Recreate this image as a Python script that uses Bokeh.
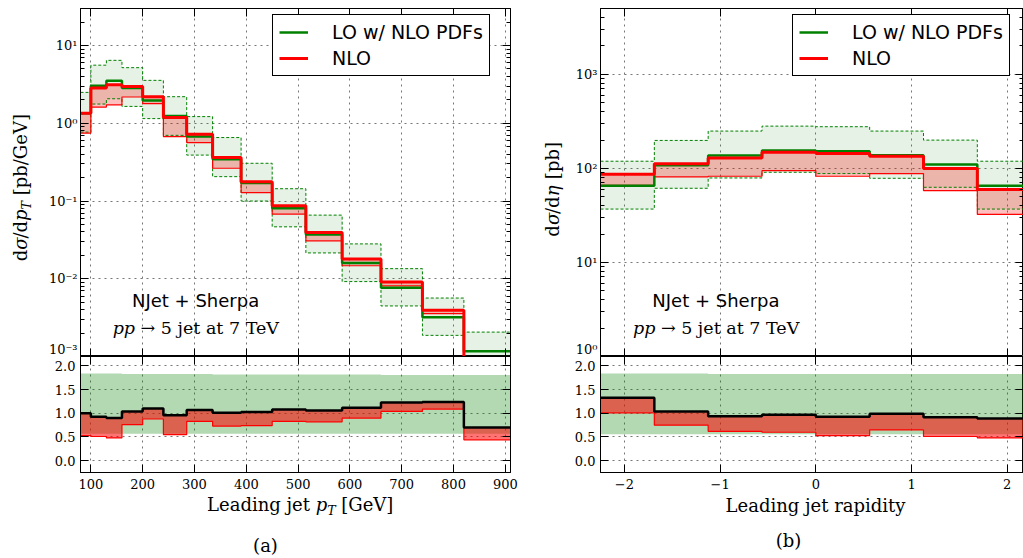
import numpy as np
from bokeh.plotting import figure
from bokeh.models import (Range1d, LinearAxis, LogAxis, FixedTicker, PrintfTickFormatter,
                          CustomJSTickFormatter, Label, Spacer)
from bokeh.layouts import row, column
from bokeh.embed import file_html
from bokeh.resources import INLINE

# ---------------- data: (a) leading jet pT ----------------
pt_edges = [80, 100, 130, 160, 200, 240, 285, 335, 390, 450, 515, 585, 660, 740, 820, 910]
pt_lo     = [1.35, 3.05, 3.53, 2.85, 1.97, 1.24, 0.676, 0.345, 0.171, 0.081, 0.0372, 0.0160, 0.00769, 0.00321, 0.00117]
pt_lo_up  = [2.5, 5.6, 6.46, 5.2, 3.57, 2.2, 1.22, 0.656, 0.306, 0.144, 0.0659, 0.0281, 0.0135, 0.00565, 0.00206]
pt_lo_dn  = [0.77, 1.77, 2.07, 1.65, 1.15, 0.70, 0.39, 0.206, 0.100, 0.0466, 0.0215, 0.0092, 0.00447, 0.00187, 0.00067]
pt_nlo    = [1.35, 2.85, 3.14, 2.98, 2.2, 1.19, 0.725, 0.362, 0.177, 0.087, 0.0394, 0.0179, 0.0091, 0.00393, 0.00082]
pt_nlo_dn = [0.75, 1.62, 1.73, 2.18, 1.79, 0.676, 0.565, 0.264, 0.128, 0.068, 0.0308, 0.0147, 0.0081, 0.00356, 0.000515]
# ratio panel (a)
pt_k      = [1.00, 0.93, 0.90, 1.04, 1.10, 0.96, 1.07, 1.01, 1.03, 1.08, 1.06, 1.12, 1.23, 1.24, 0.70]
pt_k_dn   = [0.53, 0.51, 0.48, 0.76, 0.88, 0.55, 0.83, 0.73, 0.74, 0.83, 0.82, 0.90, 1.04, 1.09, 0.44]
pt_r_up   = [1.84, 1.84, 1.84, 1.83, 1.83, 1.83, 1.83, 1.82, 1.82, 1.82, 1.82, 1.82, 1.81, 1.81, 1.81]
pt_r_dn   = [0.57, 0.57, 0.57, 0.57, 0.57, 0.57, 0.57, 0.57, 0.57, 0.57, 0.57, 0.57, 0.57, 0.57, 0.57]

# ---------------- data: (b) leading jet rapidity ----------------
eta_edges  = [-2.25, -1.6875, -1.125, -0.5625, 0.0, 0.5625, 1.125, 1.6875, 2.25]
eta_lo     = [65.5, 108, 137, 155, 152, 138, 109.6, 65.5]
eta_lo_up  = [119, 198, 249, 281, 277, 249, 199.5, 119]
eta_lo_dn  = [36.9, 61.4, 79, 90.8, 88, 78.4, 62.9, 36.9]
eta_nlo    = [86.5, 112, 129, 148.5, 143.6, 134.6, 99.5, 59.4]
eta_nlo_dn = [66, 81, 82.4, 94.6, 82.4, 88, 58, 32.4]
# ratio panel (b)
eta_k      = [1.33, 1.04, 0.94, 0.97, 0.93, 0.99, 0.915, 0.89]
eta_k_dn   = [1.01, 0.75, 0.62, 0.60, 0.53, 0.65, 0.51, 0.48]
eta_r_up   = [1.84, 1.84, 1.83, 1.83, 1.83, 1.83, 1.83, 1.83]
eta_r_dn   = [0.56, 0.56, 0.56, 0.56, 0.56, 0.56, 0.56, 0.56]

# ticks and tick labels
pt_xticks = [100, 200, 300, 400, 500, 600, 700, 800, 900]
pt_yticks = [1e-3, 1e-2, 1e-1, 1e0, 1e1]
pt_ylabels = ["10\u207b\u00b3", "10\u207b\u00b2", "10\u207b\u00b9", "10\u2070", "10\u00b9"]
eta_xticks = [-2, -1, 0, 1, 2]
eta_xlabels = {-2: "\u22122", -1: "\u22121", 0: "0", 1: "1", 2: "2"}
eta_yticks = [1e0, 1e1, 1e2, 1e3]
eta_ylabels = ["10\u2070", "10\u00b9", "10\u00b2", "10\u00b3"]
ratio_yticks = [0.0, 0.5, 1.0, 1.5, 2.0]

legend_labels = ["LO w/ NLO PDFs", "NLO"]

GREEN = "#008000"
RED = "#ff0000"
SERIF = "DejaVu Serif"
SANS = "DejaVu Sans"
TICK_FS = 13
GRID_COLOR = "#777777"
GRID_DASH = "2 4"
MAIN_FRAME_H = 348
RATIO_H = 137     # ratio canvas: 116 px frame + 21 px for tick labels
MID = 0.346       # distance (em) from alphabetic baseline to the "middle" anchor

# approximate DejaVu Serif advance widths (em)
CW = {' ': 0.318, '(': 0.390, ')': 0.390, '[': 0.390, ']': 0.390, '/': 0.337, '+': 0.838,
      '\u2192': 0.838, '\u2212': 0.838, 'a': 0.596, 'b': 0.640, 'd': 0.640, 'e': 0.592, 'g': 0.640,
      'i': 0.320, 'j': 0.316, 'n': 0.644, 'p': 0.640, 't': 0.402, 'r': 0.478, 'y': 0.565, 'l': 0.320,
      'G': 0.775, 'L': 0.653, 'T': 0.668, 'V': 0.722, '\u03c3': 0.62, '\u03b7': 0.64,
      '5': 0.636, '7': 0.636}


def text_w(s, fs):
    return sum(CW.get(c, 0.6) for c in s) * fs


def rich(p, pieces, x, y, dx, dy, fs, angle=0.0, align="center", font=SERIF):
    """Place text pieces whose common baseline goes through (x, y) + (dx, dy) px.
    pieces: (text, italic, scale, downward shift in em). Spaces only advance."""
    widths = [text_w(t, fs * sc) for t, it, sc, sh in pieces]
    total = sum(widths)
    cum = {"center": -total / 2.0, "right": -total, "left": 0.0}[align]
    for (t, it, sc, sh), w in zip(pieces, widths):
        lead = len(t) - len(t.lstrip(" "))
        a = cum + text_w(" " * lead, fs * sc)
        up = -sh * fs + MID * fs * sc   # text-frame "up" distance of the middle anchor
        if angle == 0.0:
            xo, yo = dx + a, dy + up
        else:
            xo, yo = dx - up, dy + a
        p.add_layout(Label(x=x, y=y, x_offset=float(xo), y_offset=float(yo), text=t.strip(" "),
                           angle=float(angle), text_font=font, text_font_size=f"{fs * sc:.1f}px",
                           text_font_style="italic" if it else "normal",
                           text_align="left", text_baseline="middle", text_color="black"))
        cum += w


def expand(edges, vals):
    xs = np.repeat(np.asarray(edges, float), 2)[1:-1]
    ys = np.repeat(np.asarray(vals, float), 2)
    return xs, ys


def style_axis(ax, ticks, minor=None, labels=True, fmt=None, overrides=None, standoff=5,
               tick_marks=True):
    ax.ticker = FixedTicker(ticks=ticks, minor_ticks=minor or [])
    ax.axis_line_color = "black" if tick_marks else None
    ax.axis_line_width = 1
    ax.major_tick_line_color = "black" if tick_marks else None
    ax.major_tick_in = 8
    ax.major_tick_out = 0
    ax.minor_tick_line_color = "black" if (minor and tick_marks) else None
    ax.minor_tick_in = 4
    ax.minor_tick_out = 0
    ax.major_label_text_font = SERIF
    ax.major_label_text_color = "black"
    if labels:
        if fmt is not None:
            ax.formatter = fmt
        ax.major_label_text_font_size = f"{TICK_FS}px"
        ax.major_label_standoff = standoff
    else:
        ax.formatter = CustomJSTickFormatter(code="return ''")
        ax.major_label_text_font_size = "1px"
        ax.major_label_standoff = 0
    if overrides:
        ax.major_label_overrides = overrides


def base_fig(width, height, xr, yr, ytype, bl, br, bt, bb):
    p = figure(width=width, height=height, x_range=xr, y_range=yr, y_axis_type=ytype,
               output_backend="svg", toolbar_location=None,
               min_border_left=bl, min_border_right=br, min_border_top=bt, min_border_bottom=bb)
    p.outline_line_color = "black"
    p.outline_line_width = 1
    p.outline_line_alpha = 1
    p.background_fill_color = "white"
    p.border_fill_color = "white"
    return p


def text_fig(width, height):
    f = figure(width=width, height=height, x_range=Range1d(0, width), y_range=Range1d(0, height),
               output_backend="svg", toolbar_location=None, x_axis_location=None,
               y_axis_location=None, min_border=0)
    f.outline_line_color = None
    f.xgrid.visible = False
    f.ygrid.visible = False
    f.border_fill_color = "white"
    f.background_fill_color = "white"
    return f


def style_grid(p, xt, yt):
    p.xgrid.ticker = FixedTicker(ticks=xt)
    p.ygrid.ticker = FixedTicker(ticks=yt)
    for g in (p.xgrid, p.ygrid):
        g.grid_line_color = GRID_COLOR
        g.grid_line_dash = GRID_DASH
        g.grid_line_width = 1


def log_minor(lo_e, hi_e, lo, hi):
    return [m * 10.0 ** e for e in range(lo_e, hi_e) for m in range(2, 10) if lo <= m * 10.0 ** e <= hi]


def make_main(edges, lo, lo_up, lo_dn, nlo, nlo_dn, xr, yr, xt, yt, ylabels, minor, width, bl, br):
    p = base_fig(width, MAIN_FRAME_H + 8, Range1d(*xr), Range1d(*yr), "log", bl, br, 8, 0)
    style_grid(p, xt, yt)
    xs, yu = expand(edges, lo_up)
    _, yd = expand(edges, lo_dn)
    p.varea(x=xs, y1=yd, y2=yu, fill_color=GREEN, fill_alpha=0.1)
    _, nu = expand(edges, nlo)
    _, nd = expand(edges, nlo_dn)
    p.varea(x=xs, y1=nd, y2=nu, fill_color=RED, fill_alpha=0.25)
    p.line(xs, yu, line_color=GREEN, line_width=1, line_dash="3 2")
    p.line(xs, yd, line_color=GREEN, line_width=1, line_dash="3 2")
    p.line(xs, nd, line_color=RED, line_width=1.2)
    _, yc = expand(edges, lo)
    p.line(xs, yc, line_color=GREEN, line_width=2.5, legend_label=legend_labels[0])
    p.line(xs, nu, line_color=RED, line_width=3, legend_label=legend_labels[1])
    # axes: primary left axis draws the tick marks, a second one carries the labels
    style_axis(p.xaxis[0], xt, labels=False)
    style_axis(p.yaxis[0], yt, minor=minor, labels=False)
    # lowest decade label is lifted so that it stays inside this canvas
    lift = 10 ** (7.5 * np.log10(yr[1] / yr[0]) / MAIN_FRAME_H)
    lab_ticks = [yt[0] * lift] + list(yt[1:])
    lab_axis = LogAxis()
    style_axis(lab_axis, lab_ticks, labels=True, standoff=3, tick_marks=False,
               overrides=dict(zip(lab_ticks, ylabels)))
    p.add_layout(lab_axis, "left")
    top = LinearAxis()
    style_axis(top, xt, labels=False)
    p.add_layout(top, "above")
    right = LogAxis()
    style_axis(right, yt, minor=minor, labels=False)
    p.add_layout(right, "right")
    # legend
    lg = p.legend[0]
    lg.location = (192, 280)
    lg.border_line_color = "black"
    lg.border_line_width = 1
    lg.border_line_alpha = 1
    lg.background_fill_color = "white"
    lg.background_fill_alpha = 1
    lg.label_text_font = SANS
    lg.label_text_font_size = "19px"
    lg.label_text_color = "black"
    lg.glyph_width = 29
    lg.glyph_height = 20
    lg.label_height = 20
    lg.label_standoff = 24
    lg.spacing = 4
    lg.padding = 6
    lg.margin = 0
    return p


def make_ratio(edges, k, k_dn, r_up, r_dn, xr, xt, width, bl, br, overrides=None):
    p = base_fig(width, RATIO_H, Range1d(*xr), Range1d(-0.25, 2.2), "linear", bl, br, 0, RATIO_H - 116)
    style_grid(p, xt, ratio_yticks)
    xs, gu = expand(edges, r_up)
    _, gd = expand(edges, r_dn)
    p.varea(x=xs, y1=gd, y2=gu, fill_color=GREEN, fill_alpha=0.3)
    _, kk = expand(edges, k)
    _, kd = expand(edges, k_dn)
    p.varea(x=xs, y1=kd, y2=kk, fill_color=RED, fill_alpha=0.55)
    p.line(xs, kd, line_color=RED, line_width=1.2)
    p.line(xs, kk, line_color="black", line_width=2.5)
    style_axis(p.xaxis[0], xt, labels=True, overrides=overrides, standoff=6)
    style_axis(p.yaxis[0], ratio_yticks, labels=True, fmt=PrintfTickFormatter(format="%.1f"))
    top = LinearAxis()
    style_axis(top, xt, labels=False)
    p.add_layout(top, "above")
    right = LinearAxis()
    style_axis(right, ratio_yticks, labels=False)
    p.add_layout(right, "right")
    return p


# ---------------- (a) ----------------
pa = make_main(pt_edges, pt_lo, pt_lo_up, pt_lo_dn, pt_nlo, pt_nlo_dn,
               (80, 910), (1e-3, 30), pt_xticks, pt_yticks, pt_ylabels,
               log_minor(-3, 2, 1e-3, 30), 484, 44, 10)
ra = make_ratio(pt_edges, pt_k, pt_k_dn, pt_r_up, pt_r_dn, (80, 910), pt_xticks, 484, 44, 10)

# ---------------- (b) ----------------
pb = make_main(eta_edges, eta_lo, eta_lo_up, eta_lo_dn, eta_nlo, eta_nlo_dn,
               (-2.25, 2.17), (1, 5000), eta_xticks, eta_yticks, eta_ylabels,
               log_minor(0, 4, 1, 5000), 453, 30, 0)
rb = make_ratio(eta_edges, eta_k, eta_k_dn, eta_r_up, eta_r_dn, (-2.25, 2.17), eta_xticks, 453, 30, 0,
                overrides=eta_xlabels)

# ---------------- axis titles and captions (separate text canvases) ----------------
LFS = 18.0
BOTTOM_H = 558 - 356 - RATIO_H  # height of the caption canvases
ylab_a = text_fig(36, 356)
rich(ylab_a, [("d", False, 1, 0), ("\u03c3", True, 1, 0), ("/d", False, 1, 0), ("p", True, 1, 0),
              ("T", True, 0.7, 0.22), (" [pb/GeV]", False, 1, 0)],
     26.4, 172.5, 0, 0, LFS, angle=np.pi / 2)
ylab_b = text_fig(50, 356)
rich(ylab_b, [("d", False, 1, 0), ("\u03c3", True, 1, 0), ("/d", False, 1, 0), ("\u03b7", True, 1, 0),
              (" [pb]", False, 1, 0)],
     38.6, 171, 0, 0, LFS, angle=np.pi / 2)

xlab_a = text_fig(520, BOTTOM_H)
rich(xlab_a, [("Leading jet ", False, 1, 0), ("p", True, 1, 0), ("T", True, 0.7, 0.22),
              (" [GeV]", False, 1, 0)], 299.5, 47.3, 0, 0, LFS)
rich(xlab_a, [("(a)", False, 1, 0)], 265, 6.5, 0, 0, LFS)
xlab_b = text_fig(503, BOTTOM_H)
rich(xlab_b, [("Leading jet rapidity", False, 1, 0)], 295, 46.3, 0, 0, LFS)
rich(xlab_b, [("(b)", False, 1, 0)], 268, 11.5, 0, 0, LFS)

# in-plot annotations (baseline offsets in px above the frame bottom)
for p, xa, ya in ((pa, 304, 1e-3), (pb, -1.034, 1.0)):
    rich(p, [("NJet + Sherpa", False, 1, 0)], xa, ya, 0, 50, 18, font=SANS)
    rich(p, [("pp", True, 1, 0), (" \u2192 5 jet at 7 TeV", False, 1, 0)], xa, ya, 0, 22.7, 17.5)

left_col = column(row(ylab_a, pa), row(Spacer(width=36, height=RATIO_H), ra), xlab_a)
right_col = column(row(ylab_b, pb), row(Spacer(width=50, height=RATIO_H), rb), xlab_b)
layout = row(left_col, right_col)
open("out.html", "w").write(file_html(layout, INLINE))
